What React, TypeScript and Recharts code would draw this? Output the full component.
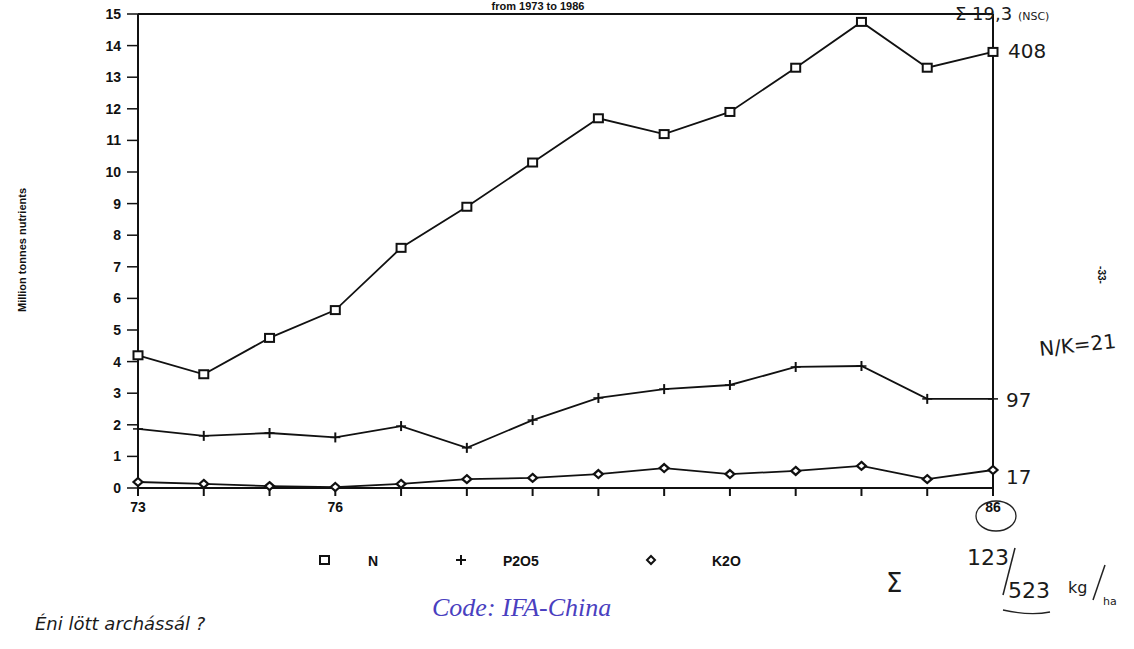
import React from 'react';
import {
  LineChart,
  Line,
  XAxis,
  YAxis,
  ReferenceLine,
} from 'recharts';

// years 1973..1986 (axis shows two digits)
const YEARS = [73, 74, 75, 76, 77, 78, 79, 80, 81, 82, 83, 84, 85, 86];
const N_VALUES = [4.2, 3.6, 4.75, 5.63, 7.6, 8.9, 10.3, 11.7, 11.2, 11.9, 13.3, 14.75, 13.3, 13.8];
const P2O5_VALUES = [1.87, 1.65, 1.74, 1.6, 1.96, 1.27, 2.15, 2.85, 3.13, 3.26, 3.83, 3.86, 2.82, 2.82];
const K2O_VALUES = [0.19, 0.13, 0.06, 0.03, 0.13, 0.28, 0.32, 0.44, 0.63, 0.44, 0.54, 0.7, 0.28, 0.57];
const Y_TICKS = [0, 1, 2, 3, 4, 5, 6, 7, 8, 9, 10, 11, 12, 13, 14, 15];
const X_LABELS = [73, 76, 86];

const data = YEARS.map((y, i) => ({
  year: y,
  N: N_VALUES[i],
  P2O5: P2O5_VALUES[i],
  K2O: K2O_VALUES[i],
}));

const INK = '#111';
const tickFont = { fontFamily: 'Liberation Sans, Arial, sans-serif', fontWeight: 900 };
const hand = { fontFamily: 'DejaVu Sans, sans-serif', fill: '#1a1a1a', fontWeight: 400 };

const SquareDot = (props: any) => {
  const { cx, cy, key } = props;
  return <rect key={key} x={cx - 4.5} y={cy - 4} width={9} height={8} fill="#fff" stroke={INK} strokeWidth={2} />;
};

const PlusDot = (props: any) => {
  const { cx, cy, key } = props;
  return (
    <g key={key}>
      <line x1={cx - 5} y1={cy} x2={cx + 5} y2={cy} stroke={INK} strokeWidth={1.5} />
      <line x1={cx} y1={cy - 5} x2={cx} y2={cy + 5} stroke={INK} strokeWidth={2} />
    </g>
  );
};

const DiamondDot = (props: any) => {
  const { cx, cy, key } = props;
  return (
    <path
      key={key}
      d={`M${cx},${cy - 4} L${cx + 4.5},${cy} L${cx},${cy + 4} L${cx - 4.5},${cy} Z`}
      fill="#fff"
      stroke={INK}
      strokeWidth={2.2}
    />
  );
};

export default function App() {
  return (
    <div style={{ position: 'fixed', left: 0, top: 0, width: 1134, height: 649, background: '#fff', overflow: 'hidden' }}>
      <LineChart
        width={1134}
        height={649}
        data={data}
        margin={{ top: 14, right: 141, left: 98, bottom: 131 }}
      >
        <XAxis
          dataKey="year"
          type="number"
          domain={[73, 86]}
          ticks={YEARS}
          interval={0}
          tickFormatter={(v) => (X_LABELS.includes(v) ? String(v) : '')}
          axisLine={{ stroke: INK, strokeWidth: 2 }}
          tickLine={{ stroke: INK, strokeWidth: 2 }}
          tickSize={8}
          tickMargin={6}
          height={30}
          tick={{ fill: INK, fontSize: 14, ...tickFont }}
        />
        <YAxis
          type="number"
          domain={[0, 15]}
          ticks={Y_TICKS}
          interval={0}
          axisLine={{ stroke: INK, strokeWidth: 2 }}
          tickLine={{ stroke: INK, strokeWidth: 1.5 }}
          tickSize={11}
          tickMargin={6}
          width={40}
          tick={{ fill: INK, fontSize: 14, ...tickFont }}
        />
        <ReferenceLine y={15} stroke={INK} strokeWidth={2} ifOverflow="extendDomain" />
        <ReferenceLine x={86} stroke={INK} strokeWidth={2} />
        <Line
          dataKey="N"
          stroke={INK}
          strokeWidth={1.8}
          dot={SquareDot}
          activeDot={false}
          isAnimationActive={false}
        />
        <Line
          dataKey="P2O5"
          stroke={INK}
          strokeWidth={1.8}
          dot={PlusDot}
          activeDot={false}
          isAnimationActive={false}
        />
        <Line
          dataKey="K2O"
          stroke={INK}
          strokeWidth={1.8}
          dot={DiamondDot}
          activeDot={false}
          isAnimationActive={false}
        />
      </LineChart>

      {/* labels, legend and the handwritten notes of the scanned page */}
      <svg width={1134} height={649} style={{ position: 'absolute', left: 0, top: 0, pointerEvents: 'none' }}>
        <text x={538} y={10} textAnchor="middle" fontSize={11} fill={INK} style={tickFont}>
          from 1973 to 1986
        </text>
        <text
          transform="translate(26,250) rotate(-90)"
          textAnchor="middle"
          fontSize={11}
          fill={INK}
          style={tickFont}
        >
          Million tonnes nutrients
        </text>

        {/* legend */}
        <rect x={320} y={556} width={9} height={8} fill="#fff" stroke={INK} strokeWidth={2} />
        <text x={368} y={566} fontSize={14} fill={INK} style={tickFont}>N</text>
        <line x1={456} y1={560} x2={466} y2={560} stroke={INK} strokeWidth={2} />
        <line x1={461} y1={555} x2={461} y2={565} stroke={INK} strokeWidth={2} />
        <text x={503} y={566} fontSize={14} fill={INK} style={tickFont}>P2O5</text>
        <path d="M651,556 L655,560 L651,564 L647,560 Z" fill="#fff" stroke={INK} strokeWidth={2} />
        <text x={712} y={566} fontSize={14} fill={INK} style={tickFont}>K2O</text>

        <text x={1098} y={275} transform="rotate(90 1098 275)" textAnchor="middle" fontSize={10} fill={INK} style={tickFont}>-33-</text>

        {/* handwritten annotations */}
        <text x={955} y={20} fontSize={18} style={hand}>Σ 19,3 <tspan fontSize={11}>(NSC)</tspan></text>
        <text x={1008} y={58} fontSize={20} style={hand}>408</text>
        <text x={1040} y={356} fontSize={20} style={hand} transform="rotate(-6 1040 356)">N/K=21</text>
        <text x={1006} y={407} fontSize={20} style={hand}>97</text>
        <text x={1006} y={484} fontSize={20} style={hand}>17</text>
        <ellipse cx={996} cy={516} rx={20} ry={15} fill="none" stroke="#222" strokeWidth={1.3} />
        <text x={886} y={592} fontSize={26} style={hand}>Σ</text>
        <text x={967} y={565} fontSize={22} style={hand}>123</text>
        <line x1={1015} y1={548} x2={1003} y2={595} stroke="#222" strokeWidth={1.5} />
        <text x={1008} y={598} fontSize={22} style={hand}>523</text>
        <path d="M1003,610 Q1030,616 1050,612" fill="none" stroke="#222" strokeWidth={1.3} />
        <text x={1068} y={593} fontSize={16} style={hand}>kg</text>
        <line x1={1105} y1={565} x2={1093} y2={600} stroke="#222" strokeWidth={1.5} />
        <text x={1103} y={605} fontSize={11} style={hand}>ha</text>
        <text x={35} y={630} fontSize={18} style={hand} fontStyle="italic">Éni lött archássál ?</text>

        <text x={432} y={616} fontSize={26} fill="#4a3fc0" fontStyle="italic" fontFamily="Liberation Serif, serif">
          Code: IFA-China
        </text>
      </svg>
    </div>
  );
}
